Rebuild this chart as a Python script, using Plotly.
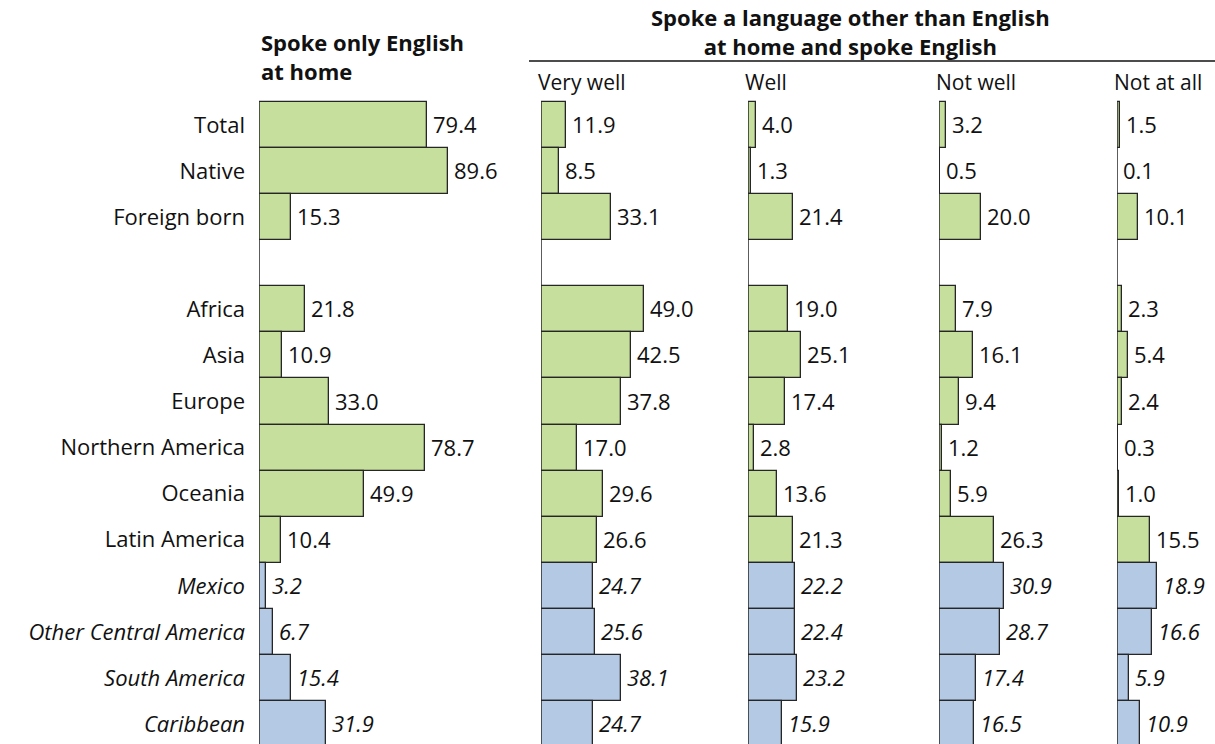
import plotly.graph_objects as go

rows = ["Total", "Native", "Foreign born", "", "Africa", "Asia", "Europe",
        "Northern America", "Oceania", "Latin America", "Mexico",
        "Other Central America", "South America", "Caribbean"]
italic_rows = ["Mexico", "Other Central America", "South America", "Caribbean"]

only_english = [79.4, 89.6, 15.3, None, 21.8, 10.9, 33.0, 78.7, 49.9, 10.4, 3.2, 6.7, 15.4, 31.9]
very_well = [11.9, 8.5, 33.1, None, 49.0, 42.5, 37.8, 17.0, 29.6, 26.6, 24.7, 25.6, 38.1, 24.7]
well = [4.0, 1.3, 21.4, None, 19.0, 25.1, 17.4, 2.8, 13.6, 21.3, 22.2, 22.4, 23.2, 15.9]
not_well = [3.2, 0.5, 20.0, None, 7.9, 16.1, 9.4, 1.2, 5.9, 26.3, 30.9, 28.7, 17.4, 16.5]
not_at_all = [1.5, 0.1, 10.1, None, 2.3, 5.4, 2.4, 0.3, 1.0, 15.5, 18.9, 16.6, 5.9, 10.9]

panel_values = [only_english, very_well, well, not_well, not_at_all]
sub_labels = ["Very well", "Well", "Not well", "Not at all"]
title_left_lines = ["Spoke only English", "at home"]
title_right_lines = ["Spoke a language other than English", "at home and spoke English"]

W, H = 1215, 744
FONT = "Open Sans"
FS = 22
GREEN = "#c6df9c"
BLUE = "#b4c9e4"
EDGE = "#262626"
PX_PER_UNIT = 2.11
panel_left_px = [259, 541, 748, 939, 1117]
panel_right_px = [527, 745, 936, 1114, 1215]
row_top_center_px, row_step_px = 125, 46.08

fig = go.Figure()

for p, vals in enumerate(panel_values):
    ys, xs, texts, colors = [], [], [], []
    for i, (r, v) in enumerate(zip(rows, vals)):
        if v is None:
            continue
        ys.append(i)
        xs.append(v)
        it = r in italic_rows
        s = f"{v:.1f}"
        texts.append("\u2009" + (f"<i>{s}</i>" if it else s))
        colors.append(BLUE if it else GREEN)
    xa = "x" if p == 0 else f"x{p+1}"
    fig.add_trace(go.Bar(
        x=xs, y=ys, orientation="h", xaxis=xa, yaxis="y",
        marker=dict(color=colors, line=dict(color=EDGE, width=1.3)),
        text=texts, textposition="outside", cliponaxis=False,
        constraintext="none",
        textfont=dict(family=FONT, size=FS, color="#111"),
        width=1.0, showlegend=False, hoverinfo="skip",
    ))

layout = dict(
    width=W, height=H, margin=dict(l=0, r=0, t=0, b=0),
    paper_bgcolor="white", plot_bgcolor="white",
    bargap=0, font=dict(family=FONT, color="#111"),
)

for p in range(5):
    key = "xaxis" if p == 0 else f"xaxis{p+1}"
    l, r = panel_left_px[p], panel_right_px[p]
    layout[key] = dict(
        domain=[l / W, r / W], range=[0, (r - l) / PX_PER_UNIT],
        showgrid=False, zeroline=False, showline=False,
        showticklabels=False, ticks="", anchor="y", fixedrange=True,
    )

tickvals = [i for i, r in enumerate(rows) if r]
ticktext = [f"<i>{r}</i>" if r in italic_rows else r for r in rows if r]
y_top = -row_top_center_px / row_step_px
y_bot = (H - row_top_center_px) / row_step_px
layout["yaxis"] = dict(
    domain=[0, 1], range=[y_bot, y_top], anchor="x",
    tickvals=tickvals, ticktext=ticktext, ticks="",
    ticklabelstandoff=13,
    tickfont=dict(family=FONT, size=FS, color="#111"),
    showgrid=False, zeroline=False, showline=False, fixedrange=True,
)

shapes = []
for p in range(5):
    xr = "x" if p == 0 else f"x{p+1}"
    shapes.append(dict(type="line", xref=xr, yref="y", x0=0, x1=0,
                       y0=-0.5, y1=len(rows), line=dict(color=EDGE, width=1.5)))
shapes.append(dict(type="line", xref="paper", yref="paper",
                   x0=529 / W, x1=1, y0=1 - 61 / H, y1=1 - 61 / H,
                   line=dict(color="#111", width=1.5)))
layout["shapes"] = shapes

ann = []
ann.append(dict(text="<b>" + "<br>".join(title_left_lines) + "</b>",
                xref="paper", yref="paper",
                x=259 / W, y=1 - 56 / H, xanchor="left", yanchor="middle",
                align="left", showarrow=False,
                font=dict(family=FONT, size=FS, color="#111")))
ann.append(dict(text="<b>" + "<br>".join(title_right_lines) + "</b>",
                xref="paper", yref="paper",
                x=850 / W, y=1 - 32 / H, xanchor="center", yanchor="middle",
                align="center", showarrow=False,
                font=dict(family=FONT, size=FS, color="#111")))
for p, lab in enumerate(sub_labels):
    ann.append(dict(text=lab, xref="paper", yref="paper",
                    x=(panel_left_px[p + 1] - 5) / W, y=1 - 82 / H,
                    xanchor="left", yanchor="middle", showarrow=False,
                    font=dict(family=FONT, size=FS - 1, color="#111")))
layout["annotations"] = ann

fig.update_layout(**layout)
fig.write_html("out.html", config={"displayModeBar": False},
               post_script="document.body.style.margin='0px';document.body.style.overflow='hidden';")
